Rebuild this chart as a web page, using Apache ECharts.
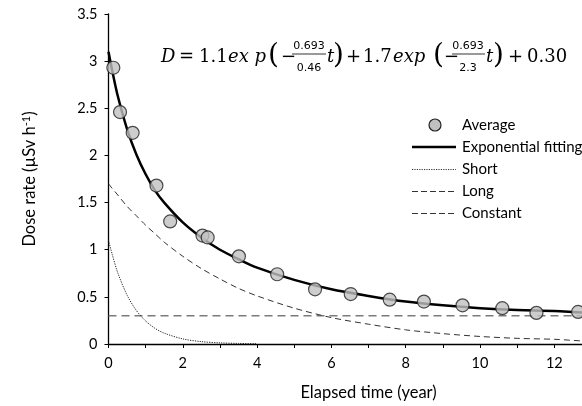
<!DOCTYPE html>
<html><head><meta charset="utf-8">
<script src="https://cdn.jsdelivr.net/npm/echarts@6/dist/echarts.min.js"></script>
<style>html,body{margin:0;padding:0;background:#fff;overflow:hidden;width:582px;height:406px}#c{width:640px;height:406px}</style>
</head><body><div id="c"></div>
<script>
// Measured averages (elapsed year, dose rate)
var avgX = [0.13, 0.31, 0.65, 1.29, 1.66, 2.53, 2.67, 3.51, 4.54, 5.56, 6.52, 7.57, 8.49, 9.53, 10.6, 11.52, 12.64];
var avgY = [2.93, 2.46, 2.24, 1.68, 1.30, 1.15, 1.13, 0.93, 0.74, 0.58, 0.53, 0.47, 0.45, 0.41, 0.38, 0.33, 0.34];
// Curves
var curveT   = [0, 0.1, 0.25, 0.5, 0.75, 1, 1.25, 1.5, 2, 2.5, 3, 3.5, 4, 5, 6, 7, 8, 9, 10, 11, 12, 13, 14];
var fitY     = [3.10, 2.90, 2.63, 2.28, 2.01, 1.80, 1.63, 1.50, 1.29, 1.13, 1.00, 0.90, 0.81, 0.68, 0.58, 0.51, 0.45, 0.41, 0.38, 0.36, 0.35, 0.33, 0.33];
var longY    = [1.70, 1.65, 1.58, 1.46, 1.36, 1.26, 1.17, 1.08, 0.93, 0.80, 0.69, 0.59, 0.51, 0.38, 0.28, 0.21, 0.15, 0.11, 0.08, 0.06, 0.05, 0.03, 0.03];
var shortT   = [0, 0.1, 0.25, 0.5, 0.75, 1, 1.25, 1.5, 2, 2.5, 3, 3.5, 4];
var shortY   = [1.10, 0.95, 0.755, 0.518, 0.355, 0.244, 0.167, 0.115, 0.054, 0.025, 0.012, 0.006, 0.003];
var constT   = [0, 14];
var constY   = [0.30, 0.30];
var legendNames = ['Average', 'Exponential fitting', 'Short', 'Long', 'Constant'];

function zip(a, b) { return a.map(function (v, i) { return [v, b[i]]; }); }

var chart = echarts.init(document.getElementById('c'));
var FONT = 'Lato';
var MF = 'DejaVu Serif';
var eqY = 57;
function t(x, txt, opts) {
  opts = opts || {};
  return {
    type: 'text', x: x, y: opts.y != null ? opts.y : eqY, silent: true,
    style: {
      text: txt, fill: '#000',
      font: (opts.italic ? 'italic ' : '') + (opts.size || 18) + 'px ' + (opts.family || MF),
      align: opts.align || 'left', verticalAlign: 'middle'
    }
  };
}
var graphics = [
  t(161, 'D', {italic: true}),
  t(179, '=', {}),
  t(199, '1.1', {}),
  t(228, 'ex p', {italic: true}),
  t(268, '(', {size: 28, y: eqY - 1}),
  t(281, '\u2212', {}),
  t(309, '0.693', {size: 11, align: 'center', y: 46, family: 'DejaVu Sans'}),
  {type: 'line', silent: true, shape: {x1: 292, y1: 54, x2: 326, y2: 54}, style: {stroke: '#000', lineWidth: 0.8}},
  t(309, '0.46', {size: 11, align: 'center', y: 68, family: 'DejaVu Sans'}),
  t(327, 't', {italic: true}),
  t(333, ')', {size: 28, y: eqY - 1}),
  t(346, '+', {}),
  t(363, '1.7', {}),
  t(393, 'exp', {italic: true}),
  t(433, '(', {size: 28, y: eqY - 1}),
  t(444, '\u2212', {}),
  t(468, '0.693', {size: 11, align: 'center', y: 46, family: 'DejaVu Sans'}),
  {type: 'line', silent: true, shape: {x1: 452, y1: 54, x2: 485, y2: 54}, style: {stroke: '#000', lineWidth: 0.8}},
  t(468, '2.3', {size: 11, align: 'center', y: 68, family: 'DejaVu Sans'}),
  t(486, 't', {italic: true}),
  t(493, ')', {size: 28, y: eqY - 1}),
  t(508, '+', {}),
  t(527, '0.30', {})
];

// Legend drawn as graphics
var legRows = [125, 147, 169.5, 191.5, 213.5];
var legX1 = 412, legX2 = 456, legTX = 462;
var legStyles = [
  null,
  {stroke: '#000', lineWidth: 2.5},
  {stroke: '#333', lineWidth: 1, lineDash: [1.2, 1.2]},
  {stroke: '#333', lineWidth: 1, lineDash: [6, 3]},
  {stroke: '#333', lineWidth: 1, lineDash: [6, 3]}
];
legendNames.forEach(function (nm, i) {
  var y = legRows[i];
  if (i === 0) {
    graphics.push({type: 'circle', silent: true, shape: {cx: 435, cy: y, r: 6},
      style: {fill: '#c0c0c0', stroke: '#222', lineWidth: 1.2}});
  } else {
    graphics.push({type: 'line', silent: true, shape: {x1: legX1, y1: y, x2: legX2, y2: y}, style: legStyles[i]});
  }
  graphics.push({type: 'text', silent: true, x: legTX, y: y,
    style: {text: nm, fill: '#000', font: '15px ' + FONT, align: 'left', verticalAlign: 'middle'}});
});

chart.setOption({
  animation: false,
  backgroundColor: '#fff',
  grid: {left: 108.5, top: 14, width: 522, height: 330, containLabel: false},
  xAxis: {
    type: 'value', min: 0, max: 14, interval: 1,
    name: 'Elapsed time (year)', nameLocation: 'middle', nameGap: 40,
    nameTextStyle: {fontFamily: FONT, fontSize: 16.5, color: '#000'},
    axisLine: {lineStyle: {color: '#000', width: 1.3}},
    axisTick: {show: true, length: 4, lineStyle: {color: '#000', width: 1}},
    axisLabel: {fontFamily: FONT, fontSize: 14.5, color: '#000', margin: 12,
      formatter: function (v) { return v % 2 === 0 ? String(v) : ''; }},
    splitLine: {show: false}
  },
  yAxis: {
    type: 'value', min: 0, max: 3.5, interval: 0.5,
    name: '{a|Dose rate (\u00b5Sv h}{s|-1}{a|)}', nameLocation: 'middle', nameGap: 69,
    nameTextStyle: {fontFamily: FONT, fontSize: 16.5, color: '#000',
      rich: {a: {fontFamily: FONT, fontSize: 16.5, color: '#000'},
             s: {fontFamily: FONT, fontSize: 11, color: '#000', verticalAlign: 'top', padding: [0, 0, 8, 0]}}},
    axisLine: {show: true, lineStyle: {color: '#000', width: 1.3}},
    axisTick: {show: true, length: 4, lineStyle: {color: '#000', width: 1}},
    axisLabel: {fontFamily: FONT, fontSize: 14.5, color: '#000', margin: 11},
    splitLine: {show: false}
  },
  series: [
    {name: 'Average', type: 'scatter', data: zip(avgX, avgY), symbol: 'circle', symbolSize: 13, z: 10,
      itemStyle: {color: '#c0c0c0', borderColor: '#222', borderWidth: 1.2}},
    {name: 'Exponential fitting', type: 'line', data: zip(curveT, fitY), smooth: 0.3, showSymbol: false, symbol: 'none',
      lineStyle: {color: '#000', width: 2.5}, z: 5},
    {name: 'Short', type: 'line', data: zip(shortT, shortY), smooth: 0.3, showSymbol: false, symbol: 'none',
      lineStyle: {color: '#222', width: 1, type: [1.2, 1.2]}, z: 3},
    {name: 'Long', type: 'line', data: zip(curveT, longY), smooth: 0.3, showSymbol: false, symbol: 'none',
      lineStyle: {color: '#333', width: 1, type: [6, 4]}, z: 3},
    {name: 'Constant', type: 'line', data: zip(constT, constY), showSymbol: false, symbol: 'none',
      lineStyle: {color: '#7a7a7a', width: 1.5, type: [8, 5]}, z: 2}
  ],
  graphic: graphics
});
</script></body></html>
